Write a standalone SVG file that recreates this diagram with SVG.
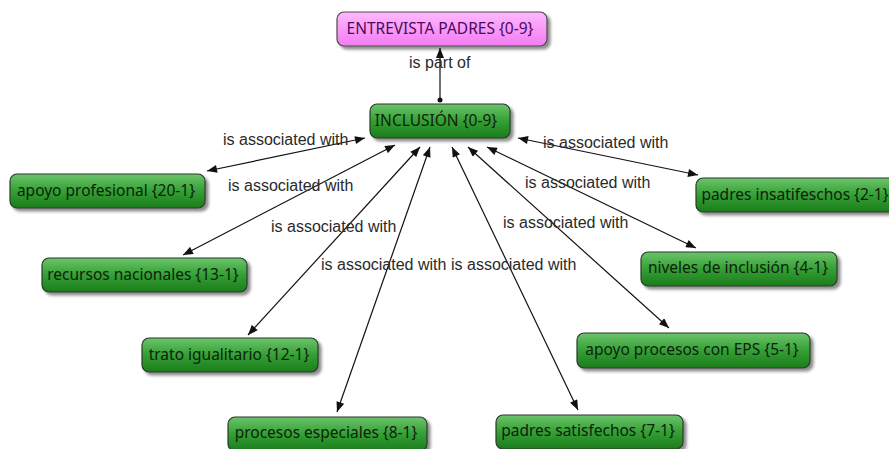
<svg xmlns="http://www.w3.org/2000/svg" width="889" height="449" viewBox="0 0 889 449">
<defs>
<style>
.node rect{stroke:#2b3a2b;stroke-width:1.2;filter:url(#sh)}
.g rect{fill:url(#gg)}
.p rect{fill:url(#pg);stroke:#4a4a4a}
.node text{font-family:"Noto Sans","DejaVu Sans",sans-serif;font-size:15.5px;text-anchor:middle;fill:#0d1f0d}
.p text{fill:#4a0a5a}
.lbl{font-family:"Liberation Sans",Arial,sans-serif;font-size:16px;fill:#2a2a2a}
.c line{stroke:#111;stroke-width:1.2;marker-start:url(#ah);marker-end:url(#ah)}
</style>
<linearGradient id="gg" x1="0" y1="0" x2="0" y2="1">
<stop offset="0" stop-color="#6cc46c"/>
<stop offset="0.5" stop-color="#34a034"/>
<stop offset="1" stop-color="#1c7c1c"/>
</linearGradient>
<linearGradient id="pg" x1="0" y1="0" x2="0" y2="1">
<stop offset="0" stop-color="#ffb8ff"/>
<stop offset="1" stop-color="#f27cf2"/>
</linearGradient>
<filter id="sh" x="-10%" y="-20%" width="130%" height="160%">
<feDropShadow dx="3" dy="3" stdDeviation="1.5" flood-color="#000" flood-opacity="0.45"/>
</filter>
<marker id="ah" viewBox="0 0 10 8" refX="10" refY="4" markerWidth="11" markerHeight="8" markerUnits="userSpaceOnUse" orient="auto-start-reverse">
<path d="M0,0 L10,4 L0,8 z" fill="#111"/>
</marker>
<marker id="ah1" viewBox="0 0 10 8" refX="10" refY="4" markerWidth="11" markerHeight="8" markerUnits="userSpaceOnUse" orient="auto">
<path d="M0,0 L10,4 L0,8 z" fill="#111"/>
</marker>
</defs>
<rect width="889" height="449" fill="#fff"/>
<g id="connectors" class="c">
<line x1="440" y1="100" x2="440" y2="48" style="marker-start:none;marker-end:url(#ah1)"/>
<circle cx="440" cy="100" r="2.5" fill="#111"/>
<line x1="365" y1="138" x2="207" y2="171"/>
<line x1="395" y1="145" x2="183" y2="255"/>
<line x1="420" y1="147" x2="248" y2="335"/>
<line x1="430" y1="147" x2="337" y2="412"/>
<line x1="452" y1="147" x2="578" y2="410"/>
<line x1="468" y1="147" x2="669" y2="328"/>
<line x1="487" y1="147" x2="696" y2="248"/>
<line x1="518" y1="138" x2="698" y2="175"/>
</g>
<g id="labels">
<text class="lbl" x="409" y="68">is part of</text>
<text class="lbl" x="223" y="145">is associated with</text>
<text class="lbl" x="228" y="191">is associated with</text>
<text class="lbl" x="271" y="232">is associated with</text>
<text class="lbl" x="321" y="270">is associated with</text>
<text class="lbl" x="451" y="270">is associated with</text>
<text class="lbl" x="503" y="228">is associated with</text>
<text class="lbl" x="525" y="188">is associated with</text>
<text class="lbl" x="543" y="148">is associated with</text>
</g>
<g id="n-entrevista" class="node p"><rect x="337" y="12" width="210" height="34" rx="7"/><text x="440" y="34">ENTREVISTA PADRES {0-9}</text></g>
<g id="n-inclusion" class="node g"><rect x="370" y="104" width="140" height="34" rx="7"/><text x="436" y="126">INCLUSIÓN {0-9}</text></g>
<g id="n-apoyo-profesional" class="node g"><rect x="10" y="174" width="195" height="34" rx="7"/><text x="106" y="196">apoyo profesional {20-1}</text></g>
<g id="n-recursos" class="node g"><rect x="42" y="258" width="205" height="34" rx="7"/><text x="143" y="280">recursos nacionales {13-1}</text></g>
<g id="n-trato" class="node g"><rect x="142" y="338" width="176" height="34" rx="7"/><text x="229" y="360">trato igualitario {12-1}</text></g>
<g id="n-procesos" class="node g"><rect x="228" y="417" width="199" height="34" rx="7"/><text x="326" y="438">procesos especiales {8-1}</text></g>
<g id="n-satisfechos" class="node g"><rect x="496" y="415" width="187" height="34" rx="7"/><text x="588" y="436">padres satisfechos {7-1}</text></g>
<g id="n-eps" class="node g"><rect x="577" y="333" width="233" height="35" rx="7"/><text x="692" y="355">apoyo procesos con EPS {5-1}</text></g>
<g id="n-niveles" class="node g"><rect x="641" y="252" width="196" height="34" rx="7"/><text x="738" y="273">niveles de inclusión {4-1}</text></g>
<g id="n-insatisfechos" class="node g"><rect x="696" y="178" width="200" height="34" rx="7"/><text x="795" y="200">padres insatifeschos {2-1}</text></g>
</svg>
